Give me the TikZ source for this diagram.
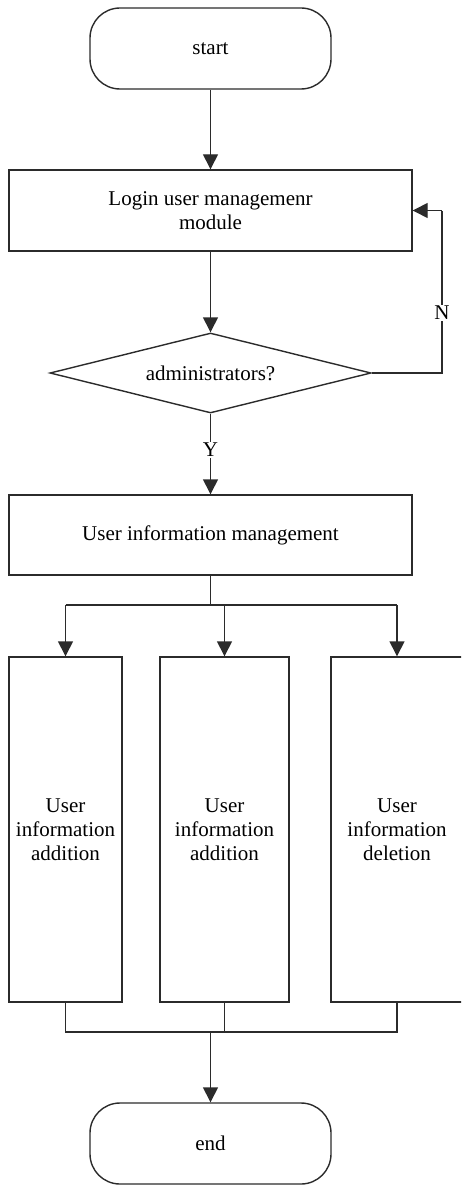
\documentclass[tikz,border=0pt]{standalone}
\usepackage{fontspec}
\setmainfont{Liberation Serif}
\usetikzlibrary{arrows.meta,shapes.geometric}
\definecolor{ink}{HTML}{2B2B2B}
\tikzset{
  every node/.style={font=\fontsize{21}{24}\selectfont, text=black},
  line/.style={draw=ink, line width=1.4pt},
  arr/.style={line, -{Triangle[width=15pt,length=15pt]}},
  term/.style={line, rectangle, rounded corners=30pt, minimum width=241pt, minimum height=81pt, inner sep=0pt},
  proc/.style={line, rectangle, minimum width=403pt, minimum height=81pt, inner sep=0pt, align=center},
  tall/.style={line, rectangle, minimum height=345pt, inner sep=0pt, align=center},
  decide/.style={line, diamond, aspect=4, minimum width=321pt, minimum height=80pt, inner sep=0pt},
  lbl/.style={fill=white, inner sep=1pt}
}
\begin{document}
\begin{tikzpicture}[x=1pt,y=-1pt]
  \useasboundingbox (0,0) rectangle (461,1185);
  \clip (0,0) rectangle (461,1185);

  % main column
  \node[term] (start) at (210.5,48.5) {start};
  \node[proc] (login) at (210.5,210.5) {Login user managemenr\\module};
  \node[decide] (admin) at (210.5,373) {administrators?};
  \node[proc, minimum height=80pt] (uim) at (210.5,535) {User information management};

  % three operations
  \node[tall, minimum width=113pt] (add1) at (65.5,829.5) {User\\information\\addition};
  \node[tall, minimum width=129pt] (add2) at (224.5,829.5) {User\\information\\addition};
  \node[tall, minimum width=132pt] (del)  at (397,829.5) {User\\information\\deletion};

  \node[term] (end) at (210.5,1143.5) {end};

  % routing points
  \coordinate (loopB) at (442,373);
  \coordinate (loopT) at (442,210.5);
  \coordinate (split) at (210.5,605);
  \coordinate (merge) at (210.5,1032);

  % connectors
  \draw[arr] (start) -- (login);
  \draw[arr] (login) -- (admin);
  \draw[arr] (admin.south) -- node[lbl, pos=0.45] {Y} (uim.north);
  \draw[line] (admin.east) -- (loopB) -- node[lbl, pos=0.37] {N} (loopT);
  \draw[arr] (loopT) -- (login.east);

  \draw[line] (uim.south) -- (split);
  \draw[line] (add1.north |- split) -- (del.north |- split);
  \draw[arr] (add1.north |- split) -- (add1.north);
  \draw[arr] (add2.north |- split) -- (add2.north);
  \draw[arr] (del.north |- split) -- (del.north);

  \draw[line] (add1.south) -- (add1.south |- merge) -- (del.south |- merge) -- (del.south);
  \draw[line] (add2.south) -- (add2.south |- merge);
  \draw[arr] (merge) -- (end);
\end{tikzpicture}
\end{document}
